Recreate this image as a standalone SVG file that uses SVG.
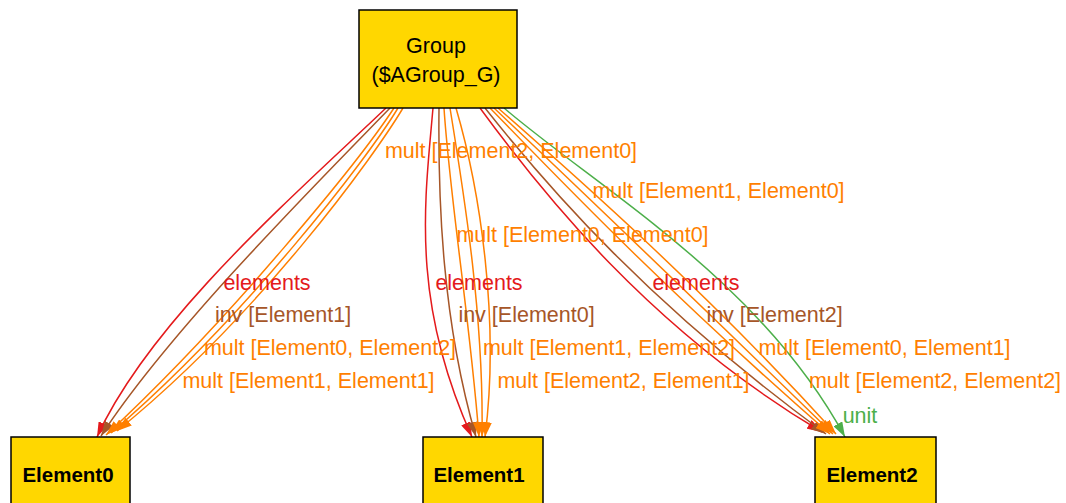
<svg xmlns="http://www.w3.org/2000/svg" width="1066" height="503" viewBox="0 0 1066 503">
<style>
.node rect{fill:#ffd700;stroke:#000;stroke-width:1.5}
.nt{font-family:"Liberation Sans",Arial,sans-serif;font-size:21.5px;fill:#000;text-anchor:middle}
.nb{font-family:"Liberation Sans",Arial,sans-serif;font-size:20.5px;font-weight:bold;fill:#000;text-anchor:middle}
.e{fill:none;stroke-width:1.5}
.r{stroke:#e41a1c;marker-end:url(#mr)}
.b{stroke:#a65628;marker-end:url(#mb)}
.o{stroke:#ff7f00;marker-end:url(#mo)}
.g{stroke:#4daf4a;marker-end:url(#mg)}
.l{font-family:"Liberation Sans",Arial,sans-serif;font-size:21.5px;text-anchor:middle}
.lr{fill:#e41a1c}.lb{fill:#a65628}.lo{fill:#ff7f00}.lg{fill:#4daf4a}
</style>
<defs>
<marker id="mr" viewBox="0 0 15 10" refX="15" refY="5" markerWidth="15" markerHeight="10" markerUnits="userSpaceOnUse" orient="auto"><path d="M0,0L15,5L0,10z" fill="#e41a1c"/></marker>
<marker id="mb" viewBox="0 0 15 10" refX="15" refY="5" markerWidth="15" markerHeight="10" markerUnits="userSpaceOnUse" orient="auto"><path d="M0,0L15,5L0,10z" fill="#a65628"/></marker>
<marker id="mo" viewBox="0 0 15 10" refX="15" refY="5" markerWidth="15" markerHeight="10" markerUnits="userSpaceOnUse" orient="auto"><path d="M0,0L15,5L0,10z" fill="#ff7f00"/></marker>
<marker id="mg" viewBox="0 0 15 10" refX="15" refY="5" markerWidth="15" markerHeight="10" markerUnits="userSpaceOnUse" orient="auto"><path d="M0,0L15,5L0,10z" fill="#4daf4a"/></marker>
</defs>
<rect width="1066" height="503" fill="#fff"/>
<g id="edges">
<path class="e r" d="M386,108 C300,190 150,320 97,437"/>
<path class="e b" d="M390,108 C320,180 170,330 101,436"/>
<path class="e o" d="M394,108 C360,160 230,320 106,435"/>
<path class="e o" d="M398,108 C368,158 245,318 111,433"/>
<path class="e o" d="M403,108 C375,155 260,315 117,431"/>
<path class="e r" d="M433,108 C425,200 410,300 472,437"/>
<path class="e b" d="M439,108 C438,200 442,320 476,437"/>
<path class="e o" d="M444,108 C450,200 470,320 479,437"/>
<path class="e o" d="M450,108 C465,200 484,320 482,437"/>
<path class="e o" d="M456,108 C480,190 500,320 485,437"/>
<path class="e r" d="M480,108 C540,190 650,330 822,432"/>
<path class="e b" d="M485,108 C550,190 650,305 826,434"/>
<path class="e o" d="M490,108 C560,180 665,290 830,434"/>
<path class="e o" d="M494,108 C570,180 685,290 833,434"/>
<path class="e o" d="M498,108 C580,180 705,290 836,434"/>
<path class="e g" d="M504,108 C600,190 760,280 845,437"/>
<text class="l lr" x="267" y="290">elements</text>
<text class="l lb" x="283" y="322">inv [Element1]</text>
<text class="l lo" x="330" y="355">mult [Element0, Element2]</text>
<text class="l lo" x="308.5" y="388">mult [Element1, Element1]</text>
<text class="l lr" x="479" y="290">elements</text>
<text class="l lb" x="526.5" y="322">inv [Element0]</text>
<text class="l lo" x="609" y="355">mult [Element1, Element2]</text>
<text class="l lo" x="623.5" y="388">mult [Element2, Element1]</text>
<text class="l lr" x="696" y="290">elements</text>
<text class="l lb" x="774.5" y="322">inv [Element2]</text>
<text class="l lo" x="884.5" y="355">mult [Element0, Element1]</text>
<text class="l lo" x="935" y="388">mult [Element2, Element2]</text>
<text class="l lg" x="860" y="423">unit</text>
<text class="l lo" x="511" y="158">mult [Element2, Element0]</text>
<text class="l lo" x="718.5" y="198">mult [Element1, Element0]</text>
<text class="l lo" x="582.5" y="242">mult [Element0, Element0]</text>
</g>
<g id="Group" class="node">
<rect x="359" y="10" width="158" height="98"/>
<text class="nt" x="436" y="53">Group</text>
<text class="nt" x="436" y="82">($AGroup_G)</text>
</g>
<g id="Element0" class="node">
<rect x="11" y="437" width="119" height="100"/>
<text class="nb" x="68" y="482">Element0</text>
</g>
<g id="Element1" class="node">
<rect x="423" y="437" width="120" height="100"/>
<text class="nb" x="479" y="482">Element1</text>
</g>
<g id="Element2" class="node">
<rect x="815" y="437" width="121" height="100"/>
<text class="nb" x="872" y="482">Element2</text>
</g>
</svg>
